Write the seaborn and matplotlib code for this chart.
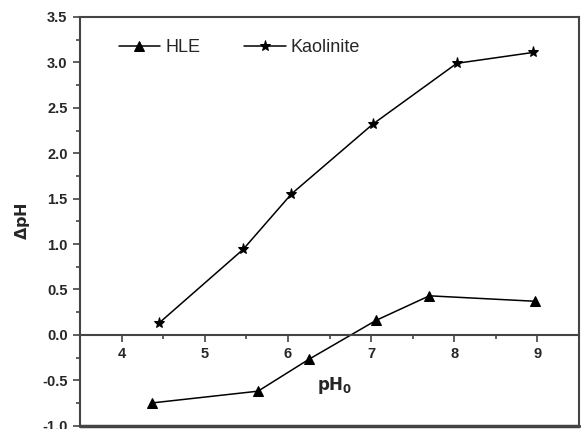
import numpy as np
import pandas as pd
import matplotlib
matplotlib.use("Agg")
import matplotlib.pyplot as plt
import seaborn as sns
from matplotlib.ticker import MultipleLocator

# data
hle_x = [4.36, 5.64, 6.25, 7.06, 7.70, 8.97]
hle_y = [-0.75, -0.62, -0.27, 0.16, 0.43, 0.37]
kao_x = [4.45, 5.46, 6.04, 7.02, 8.03, 8.95]
kao_y = [0.13, 0.94, 1.55, 2.32, 2.99, 3.11]

hle = pd.DataFrame({"pH0": hle_x, "dpH": hle_y})
kao = pd.DataFrame({"pH0": kao_x, "dpH": kao_y})

sns.set_style("ticks")
plt.rcParams["font.family"] = ["Liberation Sans", "DejaVu Sans"]

fig = plt.figure(figsize=(5.81, 4.29), dpi=100)
ax = fig.add_axes([0.1377, 0.0077, 0.859, 0.9527])

sns.lineplot(data=hle, x="pH0", y="dpH", ax=ax, color="black", lw=1.1,
             marker="^", markersize=7, markeredgecolor="black", sort=False, label="HLE")
sns.lineplot(data=kao, x="pH0", y="dpH", ax=ax, color="black", lw=1.1,
             marker="*", markersize=8, markeredgecolor="black", sort=False, label="Kaolinite")

ax.set_xlim(3.5, 9.5)
ax.set_ylim(-1.0, 3.5)
ax.xaxis.set_major_locator(MultipleLocator(1))
ax.xaxis.set_minor_locator(MultipleLocator(0.5))
ax.yaxis.set_major_locator(MultipleLocator(0.5))
ax.yaxis.set_minor_locator(MultipleLocator(0.25))
ax.yaxis.set_major_formatter(matplotlib.ticker.FormatStrFormatter("%.1f"))

spine_c = "#444444"
for s in ax.spines.values():
    s.set_visible(True)
    s.set_color(spine_c)
    s.set_linewidth(1.5)
ax.spines["bottom"].set_position(("data", 0))
# bottom frame line of the box
ax.axhline(-1.0, color=spine_c, lw=2.5, clip_on=False)

ax.tick_params(which="both", direction="out", color=spine_c, width=1.2)
ax.tick_params(which="major", length=5, labelsize=10.5, pad=4)
ax.tick_params(which="minor", length=3)
for lab in ax.get_xticklabels() + ax.get_yticklabels():
    lab.set_fontweight("bold")

ax.set_xlabel(r"$\mathbf{pH_0}$", fontsize=12)
ax.xaxis.set_label_coords(0.51, 0.125)
ax.set_ylabel(r"$\mathbf{\Delta pH}$", fontsize=11.5)
ax.yaxis.set_label_coords(-0.097, 0.5)

ax.legend(loc="upper left", ncol=2, frameon=False, fontsize=13,
          handlelength=2.3, columnspacing=2.4, handletextpad=0.3,
          bbox_to_anchor=(0.045, 0.985))

fig.savefig("out.png", dpi=100)
